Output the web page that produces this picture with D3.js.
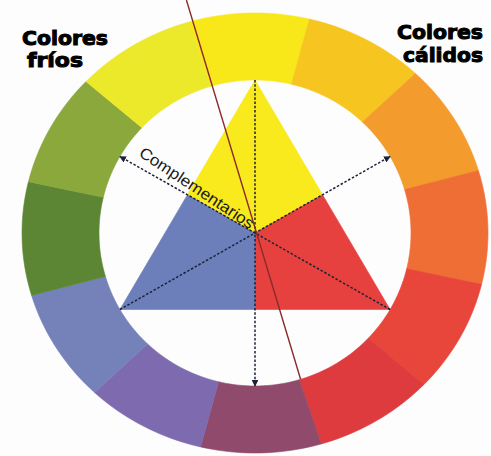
<!DOCTYPE html>
<html>
<head>
<meta charset="utf-8">
<script src="https://cdn.jsdelivr.net/npm/d3@7"></script>
<style>
  body { margin: 0; background: #fdfdfd; }
  svg { display: block; }
</style>
</head>
<body>
<svg id="wheel_svg" width="491" height="456"></svg>
<script>
// 12 ring segments, clockwise from the top
const segmentColors = ['#f8e81a', '#f7c520', '#f39b2c', '#ef6e36', '#e8453b', '#dd3b3e',
                       '#8f4a6c', '#7e6aae', '#7482b9', '#5d8634', '#8aa83c', '#ece82a'];
// inner triangle: vertex angles (deg) and fill colours
const triangleAngles = [0, 120, 240];
const triangleColors = ['#f8ea1c', '#e6413e', '#6d7fba'];
const sideLabels = [
    { lines: ['Colores', 'fríos'], widths: [86, 56], side: 'left' },
    { lines: ['Colores', 'cálidos'], widths: [86, 80], side: 'right' }
];
const complementLabel = 'Complementarios';

const width = 491, height = 456;
const cx = 255, cy = 233;
const outer = { rx: 233, ry: 220 };
const inner = { rx: 156, ry: 153 };
const rotation = -1.5;

const svg = d3.select('#wheel_svg');

// angle of the segment edges
const angle = d3.scaleLinear().domain([0, segmentColors.length]).range([-15 + rotation, 345 + rotation]);

function pt(deg, e) {
    const r = deg * Math.PI / 180;
    return [cx + e.rx * Math.sin(r), cy - e.ry * Math.cos(r)];
}

const line = d3.line();

// ring
svg.append('g')
    .selectAll('path')
    .data(segmentColors)
    .enter()
    .append('path')
    .attr('d', (c, i) => {
        const a0 = angle(i), a1 = angle(i + 1);
        const steps = d3.range(0, 21).map(k => a0 + (a1 - a0) * k / 20);
        const pts = steps.map(a => pt(a, outer)).concat(steps.slice().reverse().map(a => pt(a, inner)));
        return line(pts) + 'Z';
    })
    .style('fill', c => c)
    .style('stroke', c => c)
    .style('stroke-width', 0.6);

// triangle split along its medians
const verts = triangleAngles.map(a => pt(a, inner));
const centroid = [d3.mean(verts, v => v[0]), d3.mean(verts, v => v[1])];
const mid = (p, q) => [(p[0] + q[0]) / 2, (p[1] + q[1]) / 2];

svg.append('g')
    .selectAll('path')
    .data(triangleColors)
    .enter()
    .append('path')
    .attr('d', (c, i) => {
        const v = verts[i];
        const next = verts[(i + 1) % 3];
        const prev = verts[(i + 2) % 3];
        return line([v, mid(v, next), centroid, mid(v, prev)]) + 'Z';
    })
    .style('fill', c => c)
    .style('stroke', c => c)
    .style('stroke-width', 0.6);

// arrow marker
svg.append('defs').append('marker')
    .attr('id', 'arrow')
    .attr('viewBox', '0 0 10 10')
    .attr('refX', 9)
    .attr('refY', 5)
    .attr('markerWidth', 4.5)
    .attr('markerHeight', 4.5)
    .attr('orient', 'auto')
    .append('path')
    .attr('d', 'M0,0L10,5L0,10Z')
    .style('fill', '#1c2238');

// medians extended to the ring, arrow on the far end
const tips = triangleAngles.map(a => pt(a + 180, inner));
svg.append('g')
    .selectAll('line')
    .data(triangleAngles)
    .enter()
    .append('line')
    .attr('x1', (a, i) => verts[i][0])
    .attr('y1', (a, i) => verts[i][1])
    .attr('x2', (a, i) => tips[i][0])
    .attr('y2', (a, i) => tips[i][1])
    .attr('marker-end', 'url(#arrow)')
    .style('stroke', '#1c2238')
    .style('stroke-width', 1.5)
    .style('stroke-dasharray', '2.5,1.8');

// thin dark red guide line
const lineBottom = pt(163, inner);
const lineTop = pt(-15.5, outer);
const slope = (lineBottom[0] - lineTop[0]) / (lineBottom[1] - lineTop[1]);
svg.append('line')
    .attr('x1', lineTop[0] - slope * lineTop[1])
    .attr('y1', 0)
    .attr('x2', lineBottom[0])
    .attr('y2', lineBottom[1])
    .style('stroke', '#8b2a2e')
    .style('stroke-width', 1.4);

// "Complementarios" along the upper-left median
const tip = tips[1];
const labelAngle = Math.atan2(centroid[1] - tip[1], centroid[0] - tip[0]) * 180 / Math.PI + 4;
svg.append('text')
    .attr('transform', `translate(${tip[0] + 18},${tip[1] - 1}) rotate(${labelAngle})`)
    .attr('textLength', 134)
    .attr('lengthAdjust', 'spacingAndGlyphs')
    .style('font-family', 'Liberation Sans, Arial, sans-serif')
    .style('font-size', '16px')
    .style('fill', '#1a1a1a')
    .text(complementLabel);

// corner labels
sideLabels.forEach(lbl => {
    const x = lbl.side === 'left' ? 22 : 483;
    const ys = lbl.side === 'left' ? [45, 67] : [39, 62];
    lbl.lines.forEach((t, i) => {
        svg.append('text')
            .attr('x', lbl.side === 'left' && i === 1 ? x + 5 : x)
            .attr('y', ys[i])
            .attr('text-anchor', lbl.side === 'left' ? 'start' : 'end')
            .attr('textLength', lbl.widths[i])
            .attr('lengthAdjust', 'spacingAndGlyphs')
            .style('font-family', 'DejaVu Sans, sans-serif')
            .style('font-weight', 'bold')
            .style('font-size', '19px')
            .style('stroke', '#000')
            .style('stroke-width', 1)
            .style('fill', '#000')
            .text(t);
    });
});
</script>
</body>
</html>
